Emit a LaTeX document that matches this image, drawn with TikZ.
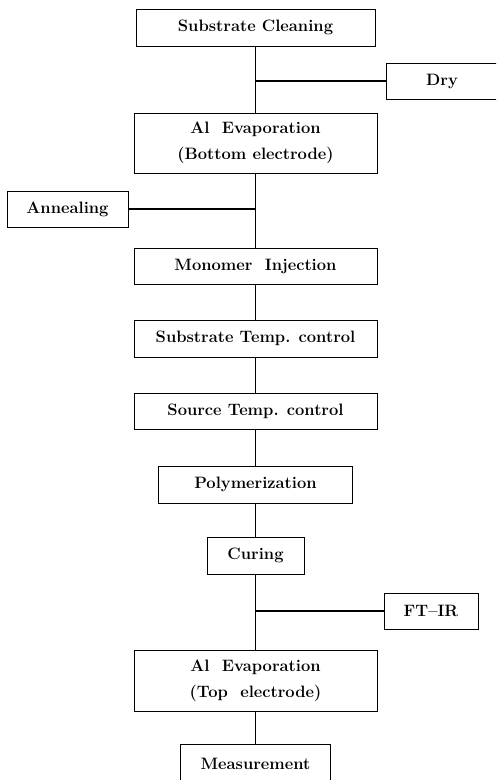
\documentclass[tikz,border=0pt]{standalone}
\usepackage{tikz}
\usetikzlibrary{positioning}

\begin{document}
\begin{tikzpicture} [node distance = 72pt, on grid,
        stage/.style = {draw, line width=0.9pt, minimum width=243pt, minimum height=36pt,
        align=center, inner sep=2pt, font=\fontsize{16.5}{26}\selectfont\bfseries},
        side/.style = {stage, minimum width=112pt}]
        \useasboundingbox (0,0) rectangle (496pt,-780pt);
        \clip (0,0) rectangle (496pt,-780pt);
        \node (CLEAN)[stage, minimum width=239pt, minimum height=37pt] at (255.5pt,-27.5pt) {Substrate Cleaning};
        \node (DRY)[side, below right = 53.5pt and 186.5pt of CLEAN] {Dry};
        \node (EVAPB)[stage, minimum height=60pt, below = 115.5pt of CLEAN]
        {Al~ Evaporation\\(Bottom electrode)};
        \node (ANNEAL)[side, minimum width=121pt, below left = 66pt and 188pt of EVAPB] {Annealing};
        \node (MONO)[stage, below = 123pt of EVAPB] {Monomer~ Injection};
        \node (SUBT)[stage, minimum height=37pt, below = 72.5pt of MONO] {Substrate Temp. control};
        \node (SRCT)[stage, below = 72.5pt of SUBT] {Source Temp. control};
        \node (POLY)[stage, minimum width=194pt, minimum height=37pt, below = 73.5pt of SRCT] {Polymerization};
        \node (CURE)[stage, minimum width=97pt, minimum height=37pt, below = 71pt of POLY] {Curing};
        \node (FTIR)[side, minimum width=94pt, below right = 55.5pt and 175.5pt of CURE] {FT--IR};
        \node (EVAPT)[stage, minimum height=61pt, below = 125pt of CURE]
        {Al~ Evaporation\\(Top~ electrode)};
        \node (MEAS)[stage, minimum width=150pt, minimum height=40pt, below = 83.5pt of EVAPT] {Measurement};
        \path [line width=1.1pt]
        (CLEAN) edge (EVAPB) (EVAPB) edge (MONO) (MONO) edge (SUBT)
        (SUBT) edge (SRCT) (SRCT) edge (POLY) (POLY) edge (CURE)
        (CURE) edge (EVAPT) (EVAPT) edge (MEAS)
        (DRY.west) edge (DRY.west -| CLEAN.south)
        (ANNEAL.east) edge (ANNEAL.east -| EVAPB.south)
        (FTIR.west) edge (FTIR.west -| CURE.south);
    \end{tikzpicture}
\end{document}
